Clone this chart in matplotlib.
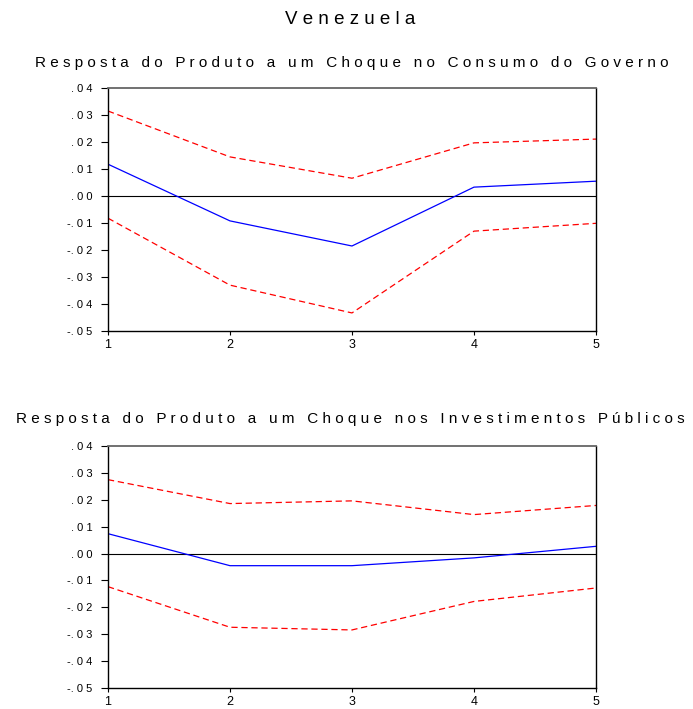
import numpy as np
import matplotlib.pyplot as plt
from matplotlib.ticker import FuncFormatter

plt.rcParams['font.family'] = ['Liberation Sans', 'DejaVu Sans']

periods = [1, 2, 3, 4, 5]

# resposta a choque no consumo do governo
gov_resp = [0.0118, -0.0092, -0.0185, 0.0033, 0.0055]
gov_upper = [0.0315, 0.0145, 0.0066, 0.0197, 0.0211]
gov_lower = [-0.0082, -0.0330, -0.0433, -0.0130, -0.0101]

# resposta a choque nos investimentos publicos
inv_resp = [0.0074, -0.0045, -0.0045, -0.0016, 0.0027]
inv_upper = [0.0275, 0.0186, 0.0196, 0.0145, 0.0179]
inv_lower = [-0.0123, -0.0274, -0.0284, -0.0178, -0.0128]

title = "Venezuela"
sub1 = "Resposta do Produto a um Choque no Consumo do Governo"
sub2 = "Resposta do Produto a um Choque nos Investimentos Públicos"
yticks = np.arange(-0.05, 0.0401, 0.01)


def spaced(s, word_gap=3):
    # eviews style wide letter spacing
    words = [" ".join(w) for w in s.split(" ")]
    return (" " * word_gap).join(words)


def fmt(v, pos):
    s = f"{v:.2f}".replace("0.", ".", 1)
    return " ".join(s).replace("- .", "-.")


fig = plt.figure(figsize=(6.93, 7.09), dpi=100)
ax1 = fig.add_axes([0.1558, 0.5331, 0.7042, 0.3427])
ax2 = fig.add_axes([0.1558, 0.0296, 0.7042, 0.3413])

for ax, r, up, lo in [(ax1, gov_resp, gov_upper, gov_lower),
                      (ax2, inv_resp, inv_upper, inv_lower)]:
    ax.axhline(0, color='black', lw=0.8, zorder=1)
    ax.plot(periods, up, color='red', ls=(0, (5, 3)), lw=0.9)
    ax.plot(periods, lo, color='red', ls=(0, (5, 3)), lw=0.9)
    ax.plot(periods, r, color='blue', lw=0.9)
    ax.set_xlim(1, 5)
    ax.set_ylim(-0.05, 0.04)
    ax.set_xticks(periods)
    ax.set_yticks(yticks)
    ax.yaxis.set_major_formatter(FuncFormatter(fmt))
    ax.tick_params(axis='y', direction='out', length=5, width=0.8, labelsize=8, pad=6)
    ax.tick_params(axis='x', direction='out', length=3, width=0.8, labelsize=9, pad=3)
    for sp in ax.spines.values():
        sp.set_linewidth(1.0)
    ax.spines['top'].set_color('#666666')
    ax.spines['top'].set_linewidth(1.3)

fig.text(0.505, 0.972, spaced(title), ha='center', va='center', fontsize=13.5)
fig.text(0.508, 0.911, spaced(sub1), ha='center', va='center', fontsize=11)
fig.text(0.505, 0.409, spaced(sub2), ha='center', va='center', fontsize=11)

fig.savefig("out.png", dpi=100)
